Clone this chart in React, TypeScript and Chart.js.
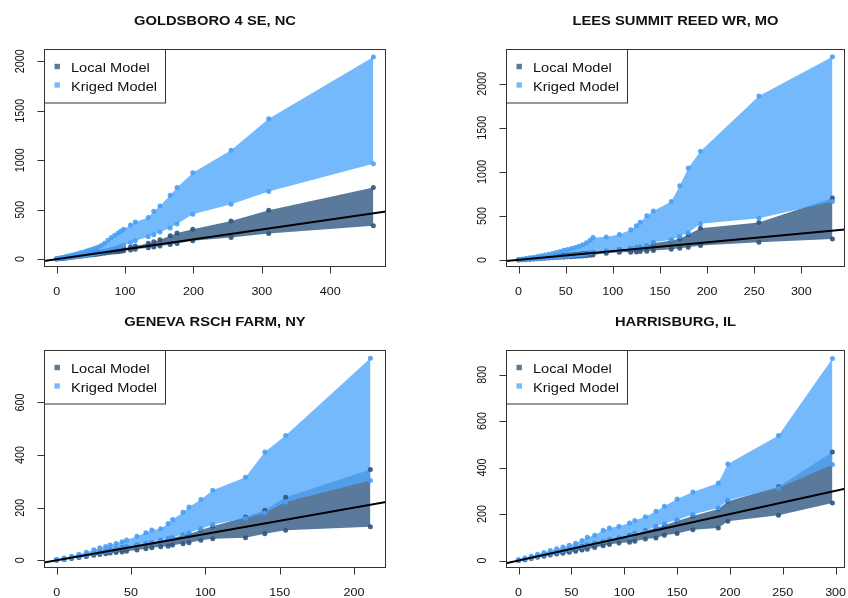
import React, { useEffect, useRef } from "react";
import { Chart, registerables } from "chart.js";

Chart.register(...registerables);

// ---------------- DATA ----------------
// Panel 1
const goldsboroTitle = "GOLDSBORO 4 SE, NC";
const goldsboroX = [0, 4, 8, 12, 15, 19, 22, 26, 30, 34, 38, 42, 45, 49, 52, 56, 60, 65, 70, 75, 80, 85, 90, 94, 98, 108, 115, 134, 142, 151, 166, 176, 199, 255, 310, 463];
const goldsboroKrigedUpper = [5, 10, 15, 22, 28, 34, 40, 47, 55, 62, 70, 78, 85, 93, 100, 110, 120, 138, 160, 190, 219, 240, 265, 285, 302, 345, 376, 420, 484, 537, 645, 723, 874, 1102, 1419, 2044];
const goldsboroKrigedLower = [2, 5, 8, 11, 14, 17, 20, 24, 28, 32, 36, 40, 44, 48, 52, 57, 62, 70, 80, 90, 100, 110, 120, 130, 140, 165, 185, 225, 245, 275, 315, 355, 454, 555, 683, 965];
const goldsboroLocalUpper = [4, 7, 9, 14, 17, 21, 25, 29, 33, 37, 42, 46, 50, 54, 58, 62, 66, 72, 78, 84, 90, 95, 100, 105, 110, 122, 132, 160, 175, 195, 235, 265, 303, 386, 494, 723];
const goldsboroLocalLower = [0, 3, 6, 9, 12, 15, 18, 21, 25, 28, 32, 35, 38, 41, 44, 47, 50, 54, 58, 63, 68, 71, 75, 80, 84, 92, 100, 115, 122, 132, 148, 158, 185, 219, 259, 336];
const goldsboroXTicks = [0, 100, 200, 300, 400];
const goldsboroYTicks = [0, 500, 1000, 1500, 2000];

// Panel 2
const leesTitle = "LEES SUMMIT REED WR, MO";
const leesX = [0, 4, 8, 12, 16, 20, 24, 28, 32, 36, 40, 44, 48, 52, 56, 60, 64, 68, 72, 76, 79, 93, 107, 119, 125, 129, 136, 143, 162, 171, 180, 193, 255, 333];
const leesKrigedUpper = [5, 11, 18, 25, 32, 40, 48, 56, 65, 74, 84, 96, 110, 120, 130, 142, 155, 172, 195, 225, 254, 262, 290, 342, 387, 429, 501, 556, 664, 842, 1044, 1233, 1860, 2307];
const leesKrigedLower = [1, 3, 6, 9, 12, 15, 18, 21, 25, 28, 32, 36, 40, 44, 48, 52, 56, 61, 66, 78, 90, 105, 118, 132, 140, 150, 165, 200, 228, 266, 310, 410, 474, 664];
const leesLocalUpper = [3, 6, 10, 14, 18, 22, 27, 31, 36, 40, 44, 48, 52, 56, 60, 64, 68, 72, 76, 80, 85, 100, 118, 130, 138, 145, 160, 190, 220, 240, 290, 360, 425, 702];
const leesLocalLower = [0, 2, 5, 8, 11, 13, 16, 19, 22, 25, 27, 30, 32, 35, 37, 40, 42, 45, 48, 52, 57, 76, 87, 87, 90, 95, 100, 106, 121, 133, 144, 163, 201, 239];
const leesXTicks = [0, 50, 100, 150, 200, 250, 300];
const leesYTicks = [0, 500, 1000, 1500, 2000];

// Panel 3
const genevaTitle = "GENEVA RSCH FARM, NY";
const genevaX = [0, 5, 10, 15, 20, 25, 29, 33, 36, 40, 44, 47, 54, 60, 64, 70, 75, 78, 85, 89, 97, 105, 127, 140, 154, 211];
const genevaKrigedUpper = [3, 9, 16, 23, 31, 40, 48, 53, 58, 64, 71, 77, 92, 105, 115, 120, 140, 155, 183, 203, 231, 266, 316, 412, 474, 768];
const genevaKrigedLower = [1, 5, 10, 15, 20, 26, 30, 34, 37, 42, 47, 50, 58, 66, 70, 78, 85, 88, 98, 105, 120, 136, 160, 180, 222, 303];
const genevaLocalUpper = [2, 6, 11, 16, 21, 27, 31, 35, 39, 43, 48, 51, 58, 63, 68, 75, 82, 85, 95, 100, 115, 130, 165, 190, 240, 345];
const genevaLocalLower = [0, 3, 7, 11, 15, 19, 22, 25, 28, 30, 32, 35, 39, 44, 48, 52, 54, 58, 63, 67, 76, 82, 86, 101, 114, 128];
const genevaXTicks = [0, 50, 100, 150, 200];
const genevaYTicks = [0, 200, 400, 600];

// Panel 4
const harrisburgTitle = "HARRISBURG, IL";
const harrisburgX = [0, 6, 12, 18, 24, 30, 36, 42, 48, 54, 60, 65, 72, 80, 86, 95, 105, 110, 120, 130, 138, 150, 165, 189, 198, 246, 297];
const harrisburgKrigedUpper = [4, 11, 19, 27, 35, 43, 51, 58, 66, 75, 86, 100, 109, 130, 140, 148, 162, 172, 188, 212, 234, 265, 295, 334, 416, 538, 869];
const harrisburgKrigedLower = [1, 6, 12, 18, 24, 30, 36, 42, 48, 54, 61, 66, 74, 83, 90, 97, 105, 119, 126, 148, 158, 176, 198, 226, 259, 312, 413];
const harrisburgLocalUpper = [2, 7, 13, 19, 25, 31, 37, 43, 49, 55, 62, 67, 74, 82, 90, 97, 108, 115, 128, 140, 152, 170, 192, 222, 255, 318, 467];
const harrisburgLocalLower = [0, 4, 9, 14, 19, 24, 28, 32, 36, 40, 45, 49, 56, 64, 69, 76, 79, 83, 93, 97, 109, 116, 133, 140, 169, 195, 248];
const harrisburgXTicks = [0, 50, 100, 150, 200, 250, 300];
const harrisburgYTicks = [0, 200, 400, 600, 800];

const legendLabels = ["Local Model", "Kriged Model"];

// ---------------- STYLE / LAYOUT ----------------
const KRIGED_FILL = "rgba(81,167,251,0.8)";
const LOCAL_FILL = "rgba(49,89,131,0.8)";
const KRIGED_POINT = "rgba(70,158,246,0.9)";
const LOCAL_POINT = "rgba(45,84,126,0.9)";
const KRIGED_SOLID = "#74bafc";
const LOCAL_SOLID = "#5a7a9c";
const FONT = "'Liberation Sans', Arial, Helvetica, sans-serif";
const SX = 1.16; // horizontal stretch of text

type PanelDef = {
  title: string;
  x: number[];
  ku: number[];
  kl: number[];
  lu: number[];
  ll: number[];
  xTicks: number[];
  yTicks: number[];
  xRange: [number, number];
  yRange: [number, number];
  left: number;
  top: number;
  pad: { left: number; right: number; top: number; bottom: number };
};

const W = 424;
const H = 299;

const panels: PanelDef[] = [
  {
    title: goldsboroTitle, x: goldsboroX, ku: goldsboroKrigedUpper, kl: goldsboroKrigedLower,
    lu: goldsboroLocalUpper, ll: goldsboroLocalLower, xTicks: goldsboroXTicks, yTicks: goldsboroYTicks,
    xRange: [-18.5, 481.5], yRange: [-80, 2125],
    left: 0, top: 0, pad: { left: 44, right: 38, top: 49, bottom: 32 },
  },
  {
    title: leesTitle, x: leesX, ku: leesKrigedUpper, kl: leesKrigedLower,
    lu: leesLocalUpper, ll: leesLocalLower, xTicks: leesXTicks, yTicks: leesYTicks,
    xRange: [-13.3, 346.3], yRange: [-80, 2395],
    left: 424, top: 0, pad: { left: 82, right: 3, top: 49, bottom: 32 },
  },
  {
    title: genevaTitle, x: genevaX, ku: genevaKrigedUpper, kl: genevaKrigedLower,
    lu: genevaLocalUpper, ll: genevaLocalLower, xTicks: genevaXTicks, yTicks: genevaYTicks,
    xRange: [-8.5, 221.5], yRange: [-29, 799],
    left: 0, top: 299, pad: { left: 44, right: 38, top: 51, bottom: 30 },
  },
  {
    title: harrisburgTitle, x: harrisburgX, ku: harrisburgKrigedUpper, kl: harrisburgKrigedLower,
    lu: harrisburgLocalUpper, ll: harrisburgLocalLower, xTicks: harrisburgXTicks, yTicks: harrisburgYTicks,
    xRange: [-11.9, 308.9], yRange: [-32, 906],
    left: 424, top: 299, pad: { left: 82, right: 3, top: 51, bottom: 30 },
  },
];

function drawText(ctx: CanvasRenderingContext2D, text: string, x: number, y: number, align: CanvasTextAlign, rotate = false) {
  ctx.save();
  ctx.translate(x, y);
  if (rotate) {
    ctx.rotate(-Math.PI / 2);
    ctx.scale(1, SX);
  } else {
    ctx.scale(SX, 1);
  }
  ctx.textAlign = align;
  ctx.fillText(text, 0, 0);
  ctx.restore();
}

const rStylePlugin = {
  id: "rStyle",
  afterDraw(chart: any) {
    const opts = chart.options.plugins.rStyle;
    const ctx: CanvasRenderingContext2D = chart.ctx;
    const { left, right, top, bottom } = chart.chartArea;
    const xs = chart.scales.x;
    const ys = chart.scales.y;
    const L = Math.round(left) + 0.5;
    const R = Math.round(right) - 0.5;
    const T = Math.round(top) + 0.5;
    const B = Math.round(bottom) - 0.5;
    ctx.save();
    ctx.strokeStyle = "#333";
    ctx.lineWidth = 1;
    ctx.strokeRect(L, T, R - L, B - T);

    // ticks
    ctx.beginPath();
    for (const v of opts.xTicks) {
      const px = Math.round(xs.getPixelForValue(v)) + 0.5;
      ctx.moveTo(px, B);
      ctx.lineTo(px, B + 7);
    }
    for (const v of opts.yTicks) {
      const py = Math.round(ys.getPixelForValue(v)) + 0.5;
      ctx.moveTo(L, py);
      ctx.lineTo(L - 7, py);
    }
    ctx.stroke();

    ctx.fillStyle = "#111";
    ctx.font = `10.8px ${FONT}`;
    ctx.textBaseline = "middle";
    for (const v of opts.xTicks) {
      drawText(ctx, String(v), xs.getPixelForValue(v), bottom + 25, "center");
    }
    for (const v of opts.yTicks) {
      drawText(ctx, String(v), left - 23, ys.getPixelForValue(v), "center", true);
    }

    // title
    ctx.font = `bold 12.7px ${FONT}`;
    ctx.textBaseline = "alphabetic";
    drawText(ctx, opts.title, (left + right) / 2, top - 24, "center");

    // legend
    const lw = 121;
    const lh = 53.5;
    ctx.fillStyle = "#fff";
    ctx.fillRect(L, T, lw, lh);
    ctx.strokeStyle = "#333";
    ctx.strokeRect(L, T, lw, lh);
    const colors = [LOCAL_SOLID, KRIGED_SOLID];
    ctx.font = `12.6px ${FONT}`;
    legendLabels.forEach((lab, i) => {
      const cy = top + 17.5 + i * 18.5;
      ctx.fillStyle = colors[i];
      ctx.fillRect(left + 10.5, cy - 2.7, 5.4, 5.4);
      ctx.fillStyle = "#111";
      ctx.textBaseline = "middle";
      drawText(ctx, lab, left + 27, cy + 2.5, "left");
    });
    ctx.restore();
  },
};

function toPts(xv: number[], yv: number[]) {
  return xv.map((x, i) => ({ x, y: yv[i] }));
}

function Panel({ p }: { p: PanelDef }) {
  const ref = useRef<HTMLCanvasElement>(null);
  useEffect(() => {
    if (!ref.current) return;
    const pointStyle = (c: string) => ({
      pointRadius: 2.5,
      pointBackgroundColor: c,
      pointBorderWidth: 0,
      pointHoverRadius: 2.5,
      borderWidth: 0,
      borderColor: "rgba(0,0,0,0)",
    });
    const chart = new Chart(ref.current, {
      type: "line",
      data: {
        datasets: [
          {
            label: "1:1",
            data: [
              { x: p.xRange[0], y: p.xRange[0] },
              { x: p.xRange[1], y: p.xRange[1] },
            ],
            borderColor: "#000",
            borderWidth: 2,
            pointRadius: 0,
            fill: false,
          },
          { label: "Kriged upper", data: toPts(p.x, p.ku), fill: "+1", backgroundColor: KRIGED_FILL, ...pointStyle(KRIGED_POINT) },
          { label: "Kriged lower", data: toPts(p.x, p.kl), fill: false, ...pointStyle(KRIGED_POINT) },
          { label: "Local upper", data: toPts(p.x, p.lu), fill: "+1", backgroundColor: LOCAL_FILL, ...pointStyle(LOCAL_POINT) },
          { label: "Local lower", data: toPts(p.x, p.ll), fill: false, ...pointStyle(LOCAL_POINT) },
        ] as any,
      },
      options: {
        animation: false,
        responsive: false,
        devicePixelRatio: 1,
        layout: { padding: p.pad },
        scales: {
          x: { type: "linear", min: p.xRange[0], max: p.xRange[1], display: false },
          y: { type: "linear", min: p.yRange[0], max: p.yRange[1], display: false },
        },
        plugins: {
          legend: { display: false },
          tooltip: { enabled: false },
          filler: { drawTime: "beforeDatasetsDraw" },
          rStyle: { title: p.title, xTicks: p.xTicks, yTicks: p.yTicks },
        } as any,
      },
      plugins: [rStylePlugin],
    });
    return () => chart.destroy();
  }, [p]);
  return (
    <canvas
      ref={ref}
      width={W}
      height={H}
      style={{ position: "absolute", left: p.left, top: p.top, width: W, height: H }}
    />
  );
}

export default function App() {
  return (
    <div style={{ position: "fixed", left: 0, top: 0, width: 848, height: 598, background: "#fff", overflow: "hidden" }}>
      {panels.map((p) => (
        <Panel key={p.title} p={p} />
      ))}
    </div>
  );
}
